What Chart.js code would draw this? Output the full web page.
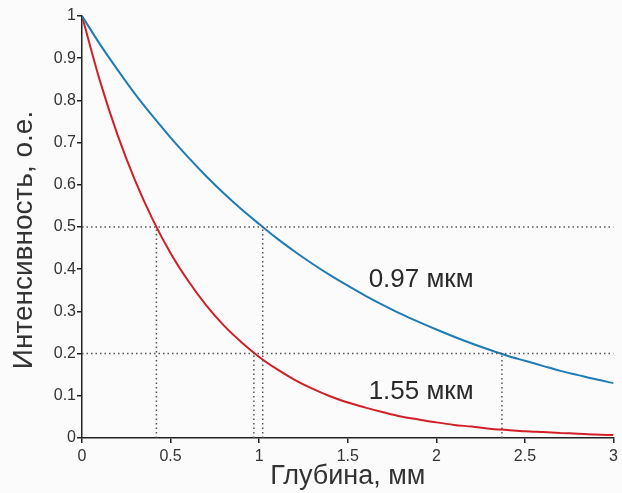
<!DOCTYPE html>
<html><head><meta charset="utf-8">
<script src="https://cdn.jsdelivr.net/npm/chart.js@4"></script>
<style>html,body{margin:0;padding:0;background:#fbfbfb}#wrap{width:622px;height:493px}</style>
</head><body><div id="wrap"><canvas id="c"></canvas></div>
<script>
const depth = [0,0.1,0.2,0.3,0.4,0.5,0.6,0.7,0.8,0.9,1.0,1.1,1.2,1.3,1.4,1.5,1.6,1.7,1.8,1.9,2.0,2.1,2.2,2.3,2.4,2.5,2.6,2.7,2.8,2.9,3.0];
const blue097 = [1.0,0.934,0.873,0.815,0.762,0.712,0.665,0.621,0.580,0.542,0.507,0.473,0.442,0.413,0.386,0.361,0.337,0.315,0.294,0.275,0.257,0.240,0.224,0.209,0.195,0.183,0.171,0.159,0.149,0.139,0.130];
const red155 = [1.0,0.848,0.719,0.610,0.517,0.438,0.372,0.315,0.267,0.227,0.192,0.163,0.138,0.117,0.099,0.084,0.072,0.061,0.051,0.044,0.037,0.031,0.027,0.022,0.019,0.016,0.014,0.012,0.010,0.008,0.007];
const hLevels = [0.5, 0.2];
const vMarks = [[0.42,0.5],[0.97,0.2],[1.02,0.5],[2.37,0.2]];
const labels = [{text:'0.97 мкм', x:1.914, y:0.374},{text:'1.55 мкм', x:1.914, y:0.109}];
const xTicks = ['0','0.5','1','1.5','2','2.5','3'];
const yTicks = ['0','0.1','0.2','0.3','0.4','0.5','0.6','0.7','0.8','0.9','1'];
const yTitle = 'Интенсивность, о.е.';
const xTitle = 'Глубина, мм';

const FONT = '"Liberation Sans", Arial, sans-serif';
const pts = (xs, ys) => xs.map((x,i)=>({x, y:ys[i]}));
const dotted = {borderColor:'#555', borderWidth:1.5, borderDash:[1.5,3], pointRadius:0, fill:false, tension:0};
const guideSets = [];
hLevels.forEach(h=>guideSets.push(Object.assign({data:[{x:0,y:h},{x:3,y:h}]}, dotted)));
vMarks.forEach(v=>guideSets.push(Object.assign({data:[{x:v[0],y:0},{x:v[0],y:v[1]}]}, dotted)));

const bgPlugin = {id:'bg', beforeDraw(ch){const c=ch.ctx;c.save();c.fillStyle='#fbfbfb';c.fillRect(0,0,ch.width,ch.height);c.restore();}};
const textPlugin = {id:'txt', afterDatasetsDraw(ch){
  const c=ch.ctx, xs=ch.scales.x, ys=ch.scales.y;
  c.save(); c.font='26px '+FONT; c.fillStyle='#2a2a2a';
  c.textAlign='center'; c.textBaseline='middle';
  labels.forEach(l=>c.fillText(l.text, xs.getPixelForValue(l.x), ys.getPixelForValue(l.y)));
  c.restore();
  c.save(); c.font='28px '+FONT; c.fillStyle='#333';
  c.translate(24, 240); c.rotate(-Math.PI/2);
  c.textAlign='center'; c.textBaseline='middle';
  c.fillText(yTitle, 0, 0);
  c.restore();
}};

new Chart(document.getElementById('c'), {
  type:'line',
  data:{datasets:[
    ...guideSets,
    {data:pts(depth, blue097), borderColor:'#1f7bb6', borderWidth:2, pointRadius:0, fill:false, cubicInterpolationMode:'monotone'},
    {data:pts(depth, red155), borderColor:'#d11f28', borderWidth:2, pointRadius:0, fill:false, cubicInterpolationMode:'monotone'}
  ]},
  options:{
    responsive:true, maintainAspectRatio:false, animation:false,
    layout:{padding:{top:16, right:5, left:0, bottom:0}},
    plugins:{legend:{display:false}, tooltip:{enabled:false}},
    scales:{
      x:{type:'linear', min:0, max:3,
        afterFit(s){s.height=55;},
        ticks:{stepSize:0.5, padding:4, color:'#333', font:{family:FONT, size:16},
          callback:(v)=>{const i=Math.round(v/0.5);return xTicks[i];}},
        grid:{drawOnChartArea:false, drawTicks:true, tickLength:5, color:'#222', lineWidth:1.5},
        border:{display:true, color:'#222', width:1.5},
        title:{display:true, text:xTitle, color:'#333', font:{family:FONT, size:27, lineHeight:1.2}, padding:{top:0,bottom:0}}
      },
      y:{min:0, max:1,
        afterFit(s){s.width=82;},
        ticks:{stepSize:0.1, padding:1, color:'#333', font:{family:FONT, size:16},
          callback:(v)=>{const i=Math.round(v*10);return yTicks[i];}},
        grid:{drawOnChartArea:false, drawTicks:true, tickLength:5, color:'#222', lineWidth:1.5},
        border:{display:true, color:'#222', width:1.5}
      }
    }
  },
  plugins:[bgPlugin, textPlugin]
});
</script></body></html>
